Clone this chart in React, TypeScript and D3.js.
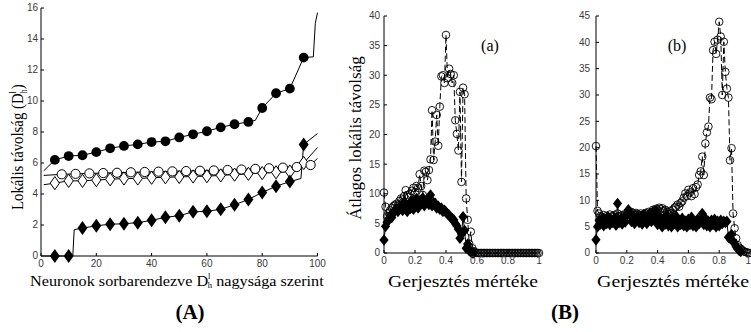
import React from "react";
import * as d3 from "d3";

// ---------- Panel A data ----------
const neuronIdx = [5, 10, 15, 20, 25, 30, 35, 40, 45, 50, 55, 60, 65, 70, 75, 80, 85, 90, 95];
const filledCircleDist = [6.2, 6.45, 6.5, 6.7, 6.95, 7.1, 7.2, 7.35, 7.4, 7.65, 7.85, 8.05, 8.3, 8.5, 8.65, 9.55, 10.5, 10.8, 12.8];
const openCircleIdx = [7.5, 12.5, 17.5, 22.5, 27.5, 32.5, 37.5, 42.5, 47.5, 52.5, 57.5, 62.5, 67.5, 72.5, 77.5, 82.5, 87.5, 92.5, 97.5];
const openCircleDist = [5.27, 5.3, 5.33, 5.35, 5.37, 5.4, 5.42, 5.44, 5.46, 5.48, 5.5, 5.52, 5.55, 5.58, 5.62, 5.66, 5.7, 5.74, 5.87];
const openDiamondDist = [4.7, 4.85, 4.85, 4.9, 4.95, 5.0, 5.0, 5.05, 5.08, 5.1, 5.13, 5.15, 5.2, 5.25, 5.3, 5.35, 5.4, 5.45, 6.0];
const filledDiamondDist = [0, 0, 1.8, 1.95, 2.05, 2.08, 2.15, 2.3, 2.5, 2.6, 2.85, 2.88, 3.02, 3.3, 3.65, 4.1, 4.5, 4.8, 7.2];

const filledCircleLineX = [1, 5, 10, 15, 20, 25, 30, 35, 40, 45, 50, 55, 60, 65, 70, 75, 77.5, 80, 85, 90, 95, 98.5, 99.2, 100];
const filledCircleLineY = [5.5, 6.2, 6.45, 6.5, 6.7, 6.95, 7.1, 7.2, 7.35, 7.4, 7.65, 7.85, 8.05, 8.3, 8.5, 8.65, 8.75, 9.55, 10.5, 10.8, 12.8, 12.85, 15.0, 15.7];
const openCircleLineX = [1, 7.5, 12.5, 17.5, 22.5, 27.5, 32.5, 37.5, 42.5, 47.5, 52.5, 57.5, 62.5, 67.5, 72.5, 77.5, 82.5, 87.5, 92.5, 97.5, 100];
const openCircleLineY = [5.2, 5.27, 5.3, 5.33, 5.35, 5.37, 5.4, 5.42, 5.44, 5.46, 5.48, 5.5, 5.52, 5.55, 5.58, 5.62, 5.66, 5.7, 5.74, 5.87, 6.3];
const openDiamondLineX = [1, 5, 10, 15, 20, 25, 30, 35, 40, 45, 50, 55, 60, 65, 70, 75, 80, 85, 90, 95, 100];
const openDiamondLineY = [4.6, 4.7, 4.85, 4.85, 4.9, 4.95, 5.0, 5.0, 5.05, 5.08, 5.1, 5.13, 5.15, 5.2, 5.25, 5.3, 5.35, 5.4, 5.45, 6.0, 7.0];
const filledDiamondLineX = [1, 5, 10, 11.5, 12, 15, 20, 25, 30, 35, 40, 45, 50, 55, 60, 65, 70, 75, 80, 85, 90, 94, 95, 100];
const filledDiamondLineY = [0, 0, 0, 0, 1.7, 1.8, 1.95, 2.05, 2.08, 2.15, 2.3, 2.5, 2.6, 2.85, 2.88, 3.02, 3.3, 3.65, 4.1, 4.5, 4.8, 5.0, 7.2, 7.9];

const aXTicks = [0, 20, 40, 60, 80, 100];
const aYTicks = [0, 2, 4, 6, 8, 10, 12, 14, 16];

// ---------- Panel B data (excitation 0..1, step 0.01) ----------
const excitation = d3.range(101).map((i) => i / 100);
const circlesA = [
  10.2, 7.8, 6.2, 6.8, 7.2, 7.6, 7.9, 8.1, 8.3, 8.0,
  8.8, 9.2, 9.0, 9.6, 10.6, 9.8, 9.4, 10.0, 10.5, 11.0,
  10.3, 11.3, 11.0, 13.3, 11.3, 9.8, 13.9, 13.7, 12.3, 14.0,
  15.8, 24.1, 15.7, 18.8, 23.3, 18.1, 24.7, 29.8, 30.0, 28.7,
  36.8, 29.5, 31.1, 30.2, 28.7, 30.0, 22.4, 20.1, 17.3, 27.2,
  12.0, 27.9, 26.8, 9.2, 5.6, 1.5, 3.6, 0.8, 0.3, 0.1,
  0, 0, 0, 0, 0, 0, 0, 0, 0, 0,
  0, 0, 0, 0, 0, 0, 0, 0, 0, 0,
  0, 0, 0, 0, 0, 0, 0, 0, 0, 0,
  0, 0, 0, 0, 0, 0, 0, 0, 0, 0,
  0,
];
const diamondsA = [
  2.2, 4.5, 5.2, 5.8, 6.3, 6.0, 6.8, 7.0, 7.4, 7.0,
  7.6, 8.0, 7.2, 8.6, 7.8, 7.0, 8.2, 7.5, 8.8, 7.4,
  8.0, 9.2, 7.6, 8.5, 8.9, 9.3, 8.0, 8.8, 9.0, 8.2,
  9.8, 8.0, 8.5, 8.4, 7.6, 7.9, 7.4, 7.6, 7.0, 7.2,
  6.9, 6.6, 6.4, 6.0, 5.8, 5.6, 5.0, 4.6, 4.0, 2.5,
  3.2, 6.1, 3.8, 0.8, 1.5, 0.4, 0.2, 0, 0,
];
const circlesB = [
  20.3, 8.0, 7.5, 7.0, 6.8, 7.2, 6.5, 7.0, 6.8, 7.3,
  6.9, 7.0, 7.2, 6.8, 7.5, 7.0, 6.8, 7.2, 7.0, 7.4,
  7.2, 7.6, 7.3, 7.8, 7.5, 7.2, 7.6, 7.4, 7.2, 7.5,
  7.0, 7.3, 7.6, 7.4, 7.8, 7.5, 7.8, 8.2, 8.0, 8.4,
  8.2, 8.6, 8.3, 8.5, 8.0, 8.2, 7.8, 7.5, 8.0, 7.6,
  8.2, 8.6, 8.8, 9.2, 8.8, 9.5, 9.8, 10.5, 11.3, 10.8,
  12.0, 11.5, 10.8, 12.3, 11.2, 12.5, 13.0, 14.8, 15.5, 18.3,
  14.8, 20.8, 22.9, 24.0, 29.5, 29.2, 38.5, 40.1, 37.8, 40.5,
  43.9, 41.1, 30.0, 40.1, 34.4, 31.2, 29.5, 17.6, 19.9, 7.5,
  4.7, 2.8, 1.5, 1.0, 0.8, 0.5, 0.3, 0.2, 0.1, 0,
  0,
];
const diamondsB = [
  2.5, 5.0, 6.2, 5.5, 6.5, 5.2, 6.3, 5.6, 6.8, 5.4,
  6.2, 5.8, 6.6, 5.3, 9.4, 5.8, 6.4, 5.5, 6.6, 5.9,
  7.2, 8.2, 7.6, 6.0, 7.0, 5.6, 6.4, 7.0, 5.8, 6.5,
  5.5, 7.2, 6.2, 5.6, 6.8, 7.4, 6.0, 7.8, 6.5, 8.0,
  5.4, 7.0, 6.2, 5.0, 6.6, 5.5, 7.2, 5.2, 6.4, 5.0,
  6.8, 5.6, 7.0, 5.0, 6.2, 5.4, 6.6, 5.2, 6.0, 5.0,
  6.4, 5.4, 6.8, 5.2, 6.0, 5.0, 6.4, 5.6, 6.2, 7.5,
  5.4, 6.6, 5.2, 6.0, 5.0, 6.2, 5.4, 6.4, 5.0, 6.0,
  5.2, 6.2, 5.6, 6.0, 5.8, 6.0, 3.0, 2.8, 3.5, 2.2,
  1.8, 1.2, 0.8, 0.5, 0.3,
];
const bXTicks = [0, 0.2, 0.4, 0.6, 0.8, 1];
const aPanelYTicks = [0, 5, 10, 15, 20, 25, 30, 35, 40];
const bPanelYTicks = [0, 5, 10, 15, 20, 25, 30, 35, 40, 45];

const SERIF = "'Liberation Serif', 'Times New Roman', serif";
const SANS = "'Liberation Sans', Arial, sans-serif";
const TICK_COLOR = "#3a3a3a";

const diamond = (w: number, h: number) => `M0,${-h}L${w},0L0,${h}L${-w},0Z`;

function Axes({ x, y, xTicks, yTicks, yLabelGap, fmtX, clipRight }: any) {
  const [x0, x1] = x.range();
  const [y0, y1] = y.range();
  return (
    <g>
      <line x1={x0} x2={x0} y1={y0} y2={y1} stroke="#000" strokeWidth={1} />
      <line x1={x0} x2={x1} y1={y0} y2={y0} stroke="#000" strokeWidth={1} />
      {yTicks.map((t: number) => (
        <g key={"y" + t}>
          <line x1={x0} x2={x0 + 3} y1={y(t)} y2={y(t)} stroke="#000" />
          <text x={x0 - yLabelGap} y={y(t)} dy="0.34em" textAnchor="end" fontFamily={SANS} fontSize={10} fill={TICK_COLOR}>
            {t}
          </text>
        </g>
      ))}
      {xTicks.map((t: number) => {
        const edge = clipRight && x(t) > clipRight - 3;
        return (
          <g key={"x" + t}>
            <line x1={x(t)} x2={x(t)} y1={y0} y2={y0 - 3} stroke="#000" />
            <text x={edge ? clipRight : x(t)} y={y0 + 11} textAnchor={edge ? "end" : "middle"} fontFamily={SANS} fontSize={10} fill={TICK_COLOR}>
              {fmtX ? fmtX(t) : t}
            </text>
          </g>
        );
      })}
    </g>
  );
}

function PanelA() {
  const x = d3.scaleLinear().domain([0, 100]).range([41, 317.5]);
  const y = d3.scaleLinear().domain([0, 16]).range([256, 8]);
  const path = (xs: number[], ys: number[]) =>
    d3.line<number>().x((d) => x(d)).y((_, i) => y(ys[i]))(xs) || "";
  return (
    <g>
      <path d={path(filledCircleLineX, filledCircleLineY)} fill="none" stroke="#000" strokeWidth={1} />
      <path d={path(openDiamondLineX, openDiamondLineY)} fill="none" stroke="#000" strokeWidth={1} />
      <path d={path(openCircleLineX, openCircleLineY)} fill="none" stroke="#000" strokeWidth={1} />
      <path d={path(filledDiamondLineX, filledDiamondLineY)} fill="none" stroke="#000" strokeWidth={1} />
      {neuronIdx.map((n, i) => (
        <circle key={"fc" + n} cx={x(n)} cy={y(filledCircleDist[i])} r={4.9} fill="#000" />
      ))}
      {neuronIdx.map((n, i) => (
        <path key={"od" + n} d={diamond(4.6, 6.6)} transform={`translate(${x(n)},${y(openDiamondDist[i])})`} fill="#fff" stroke="#000" strokeWidth={1} />
      ))}
      {openCircleIdx.map((n, i) => (
        <circle key={"oc" + n} cx={x(n)} cy={y(openCircleDist[i])} r={4.6} fill="#fff" stroke="#000" strokeWidth={1} />
      ))}
      {neuronIdx.map((n, i) => (
        <path key={"fd" + n} d={diamond(5, 7)} transform={`translate(${x(n)},${y(filledDiamondDist[i])})`} fill="#000" />
      ))}
      <Axes x={x} y={y} xTicks={aXTicks} yTicks={aYTicks} yLabelGap={3} />
      <text transform="translate(23,210) rotate(-90) scale(0.87,1)" fontFamily={SERIF} fontSize={17}>
        Lokális távolság (D
        <tspan fontSize={9.5} dy={-7}>l</tspan>
        <tspan fontSize={9.5} dx={-2.6} dy={11}>h</tspan>
        <tspan dy={-4}>)</tspan>
      </text>
      <text transform="translate(30,286) scale(1.08,1)" fontFamily={SERIF} fontSize={15}>
        Neuronok sorbarendezve D
        <tspan fontSize={8} dy={-7}>l</tspan>
        <tspan fontSize={8} dx={-2.5} dy={9}>h</tspan>
        <tspan dy={-2}> nagysága szerint</tspan>
      </text>
      <text x={190} y={319} textAnchor="middle" fontFamily={SERIF} fontSize={21} fontWeight="bold">(A)</text>
    </g>
  );
}

function PanelB({ x0, x1, yMax, yTicks, circles, diamonds, tag, tagX, labelX0, labelX1, yLabel, clipRight }: any) {
  const x = d3.scaleLinear().domain([0, 1]).range([x0, x1]);
  const y = d3.scaleLinear().domain([0, yMax]).range([253, 16]);
  const lineC = d3.line<number>().x((_, i) => x(excitation[i])).y((d) => y(d))(circles) || "";
  const lineD = d3.line<number>().x((_, i) => x(excitation[i])).y((d) => y(d))(diamonds) || "";
  return (
    <g>
      <path d={lineC} fill="none" stroke="#000" strokeWidth={1} strokeDasharray="6,3" />
      {circles.map((v: number, i: number) => (
        <circle key={"c" + i} cx={x(excitation[i])} cy={y(v)} r={3.8} fill="none" stroke="#000" strokeWidth={0.9} />
      ))}
      <path d={lineD} fill="none" stroke="#000" strokeWidth={1} />
      {diamonds.map((v: number, i: number) => (
        <path key={"d" + i} d={diamond(4.6, 5.8)} transform={`translate(${x(excitation[i])},${y(v)})`} fill="#000" />
      ))}
      <Axes x={x} y={y} xTicks={bXTicks} yTicks={yTicks} yLabelGap={x0 > 500 ? 6 : 4} fmtX={(t: number) => String(t)} clipRight={clipRight} />
      <text x={tagX} y={51} textAnchor="middle" fontFamily={SERIF} fontSize={16}>{tag}</text>
      <text x={labelX0} y={287} textLength={labelX1 - labelX0} lengthAdjust="spacingAndGlyphs" fontFamily={SERIF} fontSize={17}>
        Gerjesztés mértéke
      </text>
      {yLabel && (
        <text transform="translate(361,138) rotate(-90)" textAnchor="middle" fontFamily={SERIF} fontSize={17}>
          {yLabel}
        </text>
      )}
    </g>
  );
}

export default function App() {
  return (
    <svg width={751} height={332} style={{ position: "fixed", left: 0, top: 0, background: "#fff" }}>
      <rect width={751} height={332} fill="#fff" />
      <PanelA />
      <PanelB x0={384} x1={539} yMax={40} yTicks={aPanelYTicks} circles={circlesA} diamonds={diamondsA} tag="(a)" tagX={490} labelX0={388} labelX1={538} yLabel="Átlagos lokális távolság" />
      <PanelB x0={596} x1={750} yMax={45} yTicks={bPanelYTicks} circles={circlesB} diamonds={diamondsB} tag="(b)" tagX={677} labelX0={597} labelX1={749} clipRight={751} />
      <text x={565} y={319} textAnchor="middle" fontFamily={SERIF} fontSize={21} fontWeight="bold">(B)</text>
    </svg>
  );
}
